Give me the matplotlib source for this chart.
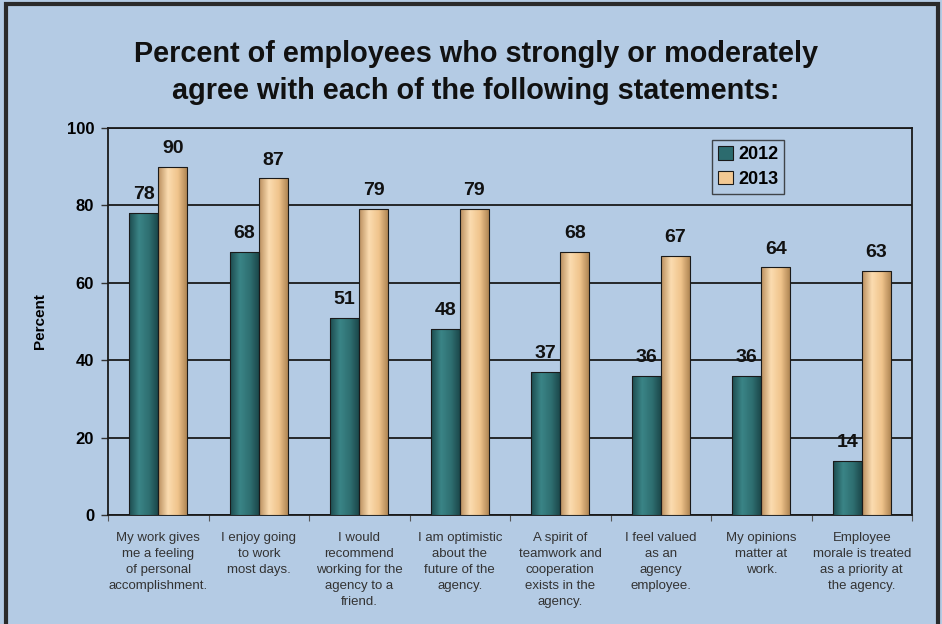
import numpy as np
import matplotlib
matplotlib.use("Agg")
import matplotlib.pyplot as plt
from matplotlib.colors import LinearSegmentedColormap
from matplotlib.patches import Rectangle, Patch

# data
statements = [
    "My work gives\nme a feeling\nof personal\naccomplishment.",
    "I enjoy going\nto work\nmost days.",
    "I would\nrecommend\nworking for the\nagency to a\nfriend.",
    "I am optimistic\nabout the\nfuture of the\nagency.",
    "A spirit of\nteamwork and\ncooperation\nexists in the\nagency.",
    "I feel valued\nas an\nagency\nemployee.",
    "My opinions\nmatter at\nwork.",
    "Employee\nmorale is treated\nas a priority at\nthe agency.",
]
years = ["2012", "2013"]
pct_2012 = [78, 68, 51, 48, 37, 36, 36, 14]
pct_2013 = [90, 87, 79, 79, 68, 67, 64, 63]

bg = "#b4cbe4"
teal = "#2c6b6e"
tan = "#f3c993"

plt.rcParams["font.family"] = ["Liberation Sans", "DejaVu Sans"]

fig = plt.figure(figsize=(9.42, 6.24), dpi=100, facecolor=bg)
ax = fig.add_axes([0.1147, 0.1747, 0.8535, 0.6203])
ax.set_facecolor(bg)

x = np.arange(len(statements))
w = 0.29
ax.set_xlim(-0.5, len(statements) - 0.5)
ax.set_ylim(0, 100)
ax.set_autoscale_on(False)

b1 = ax.bar(x - w / 2, pct_2012, w, color=teal, edgecolor="#1a1a1a", linewidth=0.8, zorder=3)
b2 = ax.bar(x + w / 2, pct_2013, w, color=tan, edgecolor="#1a1a1a", linewidth=0.8, zorder=3)

# cylinder-like shading
cm_teal = LinearSegmentedColormap.from_list("t", ["#1d4c4f", "#3a8486", "#2f7072", "#1a4447"])
cm_tan = LinearSegmentedColormap.from_list("n", ["#b98e5e", "#fbdcb0", "#f0c48c", "#a9804f"])
grad = np.linspace(0, 1, 64).reshape(1, -1)
for bars, cmap in ((b1, cm_teal), (b2, cm_tan)):
    for p in bars:
        x0, y0 = p.get_x(), p.get_y()
        im = ax.imshow(grad, cmap=cmap, aspect="auto", zorder=3.5,
                       extent=(x0, x0 + p.get_width(), y0, y0 + p.get_height()))
        im.set_clip_path(p)
        p.set_facecolor("none")
        p.set_zorder(4)

for bars in (b1, b2):
    for p in bars:
        ax.annotate(f"{p.get_height():.0f}", (p.get_x() + p.get_width() / 2, p.get_height()),
                    xytext=(0, 7), textcoords="offset points", ha="center", va="bottom",
                    fontsize=14, fontweight="bold", color="#111111", zorder=5)

ax.yaxis.grid(True, color="#1a1a1a", linewidth=1.3, zorder=1)
ax.set_axisbelow(True)
ax.set_yticks(range(0, 101, 20))
ax.tick_params(axis="y", labelsize=12, direction="out", length=5, width=1, color="#333333", pad=5)
for t in ax.get_yticklabels():
    t.set_fontweight("bold")
ax.set_ylabel("Percent", fontsize=11, fontweight="bold", labelpad=14)

ax.set_xticks(np.arange(len(statements) + 1) - 0.5)
ax.set_xticklabels([])
ax.tick_params(axis="x", which="major", direction="out", length=4, color="#555555")
ax.set_xticks(x, minor=True)
ax.set_xticklabels(statements, minor=True, fontsize=9.5, color="#333333", linespacing=1.46, va="top")
ax.tick_params(axis="x", which="minor", length=0, pad=12)

for s in ax.spines.values():
    s.set_color("#1a1a1a")
    s.set_linewidth(1.3)

handles = [Patch(facecolor=teal, edgecolor="#1a1a1a", linewidth=0.8),
           Patch(facecolor=tan, edgecolor="#1a1a1a", linewidth=0.8)]
leg = ax.legend(handles, years, loc="upper left", bbox_to_anchor=(0.751, 0.969), borderaxespad=0,
                frameon=True, fancybox=False, facecolor=bg, edgecolor="#222222",
                handlelength=0.8, handleheight=0.8, handletextpad=0.3, borderpad=0.35,
                labelspacing=0.4, prop={"weight": "bold", "size": 13})
leg.get_frame().set_linewidth(1.0)

fig.text(0.505, 0.884,
         "Percent of employees who strongly or moderately\nagree with each of the following statements:",
         ha="center", va="center", fontsize=20.8, fontweight="bold", color="#111111", linespacing=1.42)

fig.patches.append(Rectangle((0.006, -0.01), 0.99, 1.004, transform=fig.transFigure, fill=False,
                             edgecolor="#2a2a2a", linewidth=3, zorder=10))

fig.savefig("out.png", dpi=100, facecolor=bg)
